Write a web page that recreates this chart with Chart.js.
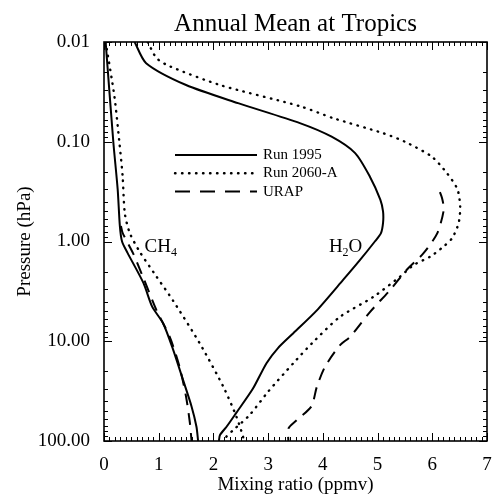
<!DOCTYPE html>
<html>
<head>
<meta charset="utf-8">
<script src="https://cdn.jsdelivr.net/npm/chart.js@4.4.1/dist/chart.umd.min.js"></script>
<style>
  html, body { margin: 0; padding: 0; background: #fff; }
</style>
</head>
<body>
<canvas id="profileChart" width="492" height="496"></canvas>
<script>
// pressure levels (hPa) and mixing ratios (ppmv)
const ch4P1995 = [0.01, 0.1, 0.3, 0.7, 1.0, 1.3, 2.6, 4.5, 6.6, 12, 24, 45, 72, 100];
const ch4X1995 = [0.03, 0.17, 0.25, 0.29, 0.33, 0.43, 0.72, 0.88, 1.08, 1.26, 1.44, 1.60, 1.69, 1.72];

const ch4P2060 = [0.01, 0.035, 0.1, 0.22, 0.52, 0.82, 1.26, 2.25, 3.9, 10.5, 28.5, 57, 90, 100];
const ch4X2060 = [0.03, 0.19, 0.28, 0.34, 0.38, 0.47, 0.65, 0.96, 1.26, 1.75, 2.18, 2.42, 2.54, 2.55];

const ch4PUrap = [0.7, 0.82, 1.31, 2.25, 4.9, 9, 18, 36, 66, 100];
const ch4XUrap = [0.31, 0.34, 0.53, 0.71, 0.96, 1.2, 1.38, 1.5, 1.57, 1.6];

const h2oP1995 = [0.01, 0.0163, 0.027, 0.041, 0.065, 0.089, 0.13, 0.224, 0.38, 0.5, 0.65, 0.83, 1.0, 1.53, 2.43, 4.9, 8.3, 11.7, 16.6, 30, 52, 72, 87, 100];
const h2oX1995 = [0.56, 0.77, 1.5, 2.45, 3.58, 4.16, 4.59, 4.86, 5.05, 5.1, 5.1, 5.06, 4.95, 4.68, 4.37, 3.89, 3.46, 3.18, 2.97, 2.72, 2.42, 2.24, 2.12, 2.1];

const h2oP2060 = [0.01, 0.0145, 0.0175, 0.027, 0.044, 0.058, 0.082, 0.1, 0.141, 0.207, 0.30, 0.45, 0.66, 0.93, 1.13, 1.42, 1.72, 2.25, 3.6, 5.7, 10.5, 16.6, 32, 55, 78, 90, 100];
const h2oX2060 = [0.8, 0.96, 1.2, 2.12, 3.58, 4.19, 5.1, 5.5, 5.99, 6.27, 6.46, 6.51, 6.48, 6.36, 6.2, 5.96, 5.66, 5.41, 4.92, 4.31, 3.8, 3.46, 3.0, 2.66, 2.36, 2.24, 2.2];

const h2oPUrap = [0.32, 0.37, 0.48, 0.83, 1.31, 1.93, 3.06, 5.1, 9, 11, 18, 28.6, 45, 62, 75, 100];
const h2oXUrap = [6.14, 6.18, 6.21, 6.09, 5.84, 5.53, 5.23, 4.86, 4.5, 4.31, 4.04, 3.89, 3.79, 3.52, 3.37, 3.37];

const xTicks = [0, 1, 2, 3, 4, 5, 6, 7];
const yTicks = [0.01, 0.1, 1, 10, 100];
const legendLabels = ['Run 1995', 'Run 2060-A', 'URAP'];

const SERIF = '"Liberation Serif", "Times New Roman", serif';
const dashes = [[], [0.5, 6.5], [12, 8]];

function pts(ps, xs) {
  return ps.map((p, i) => ({ x: xs[i], y: p }));
}

function profile(ps, xs, style) {
  return {
    data: pts(ps, xs),
    showLine: true,
    borderColor: '#000',
    borderWidth: style === 1 ? 2.4 : 2,
    borderDash: dashes[style],
    borderCapStyle: style === 1 ? 'round' : 'butt',
    pointRadius: 0,
    tension: 0.25
  };
}

// frame, inward ticks, title, legend and species labels
const decorations = {
  id: 'decorations',
  afterDatasetsDraw(chart) {
    const { ctx, chartArea: a, scales: { x, y } } = chart;
    ctx.save();
    ctx.strokeStyle = '#000';
    ctx.fillStyle = '#000';

    ctx.lineWidth = 1.6;
    ctx.strokeRect(a.left, a.top, a.right - a.left, a.bottom - a.top);

    ctx.lineWidth = 1;
    ctx.beginPath();
    for (let v = 0; v <= 70; v++) {
      const px = Math.round(x.getPixelForValue(v / 10)) + 0.5;
      const len = v % 10 === 0 ? 8 : 4;
      ctx.moveTo(px, a.bottom); ctx.lineTo(px, a.bottom - len);
      ctx.moveTo(px, a.top); ctx.lineTo(px, a.top + len);
    }
    yTicks.forEach((d, k) => {
      for (let m = 1; m <= 9; m++) {
        if (k === yTicks.length - 1 && m > 1) break;
        const py = Math.round(y.getPixelForValue(d * m)) + 0.5;
        const len = m === 1 ? 8 : 4;
        ctx.moveTo(a.left, py); ctx.lineTo(a.left + len, py);
        ctx.moveTo(a.right, py); ctx.lineTo(a.right - len, py);
      }
    });
    ctx.stroke();

    // title
    ctx.font = '25px ' + SERIF;
    ctx.textAlign = 'center';
    ctx.textBaseline = 'alphabetic';
    ctx.fillText('Annual Mean at Tropics', (a.left + a.right) / 2, 31);

    // legend
    const lx0 = a.left + 71, lx1 = a.left + 153, ly = a.top + 113;
    ctx.font = '15px ' + SERIF;
    ctx.textAlign = 'left';
    ctx.textBaseline = 'middle';
    legendLabels.forEach((lab, i) => {
      const yy = ly + i * 18.3;
      ctx.save();
      ctx.lineWidth = i === 1 ? 2.4 : 2;
      ctx.setLineDash(i === 2 ? [15, 10] : dashes[i]);
      ctx.lineCap = i === 1 ? 'round' : 'butt';
      ctx.beginPath();
      ctx.moveTo(lx0, yy); ctx.lineTo(lx1, yy);
      ctx.stroke();
      ctx.restore();
      ctx.fillText(lab, lx1 + 6, yy);
    });

    // species labels with subscripts
    ctx.textBaseline = 'alphabetic';
    const species = [['CH', '4', 0.74], ['H', '2', 4.11]];
    species.forEach(([main, sub, xv]) => {
      const tx = x.getPixelForValue(xv), ty = y.getPixelForValue(1.27);
      ctx.font = '19px ' + SERIF;
      ctx.fillText(main, tx, ty);
      let w = ctx.measureText(main).width;
      ctx.font = '12px ' + SERIF;
      ctx.fillText(sub, tx + w, ty + 4);
      if (main === 'H') {
        w += ctx.measureText(sub).width;
        ctx.font = '19px ' + SERIF;
        ctx.fillText('O', tx + w, ty);
      }
    });
    ctx.restore();
  }
};

new Chart(document.getElementById('profileChart'), {
  type: 'scatter',
  data: {
    datasets: [
      profile(ch4P1995, ch4X1995, 0),
      profile(ch4P2060, ch4X2060, 1),
      profile(ch4PUrap, ch4XUrap, 2),
      profile(h2oP1995, h2oX1995, 0),
      profile(h2oP2060, h2oX2060, 1),
      profile(h2oPUrap, h2oXUrap, 2)
    ]
  },
  options: {
    responsive: false,
    animation: false,
    layout: { padding: { top: 42, right: 5, bottom: 0, left: 0 } },
    plugins: {
      legend: { display: false },
      tooltip: { enabled: false },
      title: { display: false }
    },
    scales: {
      x: {
        type: 'linear',
        min: 0,
        max: 7,
        afterBuildTicks: s => { s.ticks = xTicks.map(v => ({ value: v })); },
        afterFit: s => { s.height = 55; s.paddingLeft = 0; s.paddingRight = 0; },
        grid: { display: false },
        border: { display: false },
        ticks: { color: '#000', font: { family: SERIF, size: 19 }, padding: 5, maxRotation: 0 },
        title: { display: true, text: 'Mixing ratio (ppmv)', color: '#000', font: { family: SERIF, size: 19 }, padding: { top: 0, bottom: 0 } }
      },
      y: {
        type: 'logarithmic',
        reverse: true,
        min: 0.01,
        max: 100,
        afterBuildTicks: s => { s.ticks = yTicks.map(v => ({ value: v })); },
        afterFit: s => { s.width = 104; s.paddingTop = 0; s.paddingBottom = 0; },
        grid: { display: false },
        border: { display: false },
        ticks: {
          color: '#000',
          font: { family: SERIF, size: 19 },
          padding: 6,
          callback: v => Number(v).toFixed(2)
        },
        title: { display: true, text: 'Pressure (hPa)', color: '#000', font: { family: SERIF, size: 19 }, padding: { top: 14, bottom: 0 } }
      }
    }
  },
  plugins: [decorations]
});
</script>
</body>
</html>
